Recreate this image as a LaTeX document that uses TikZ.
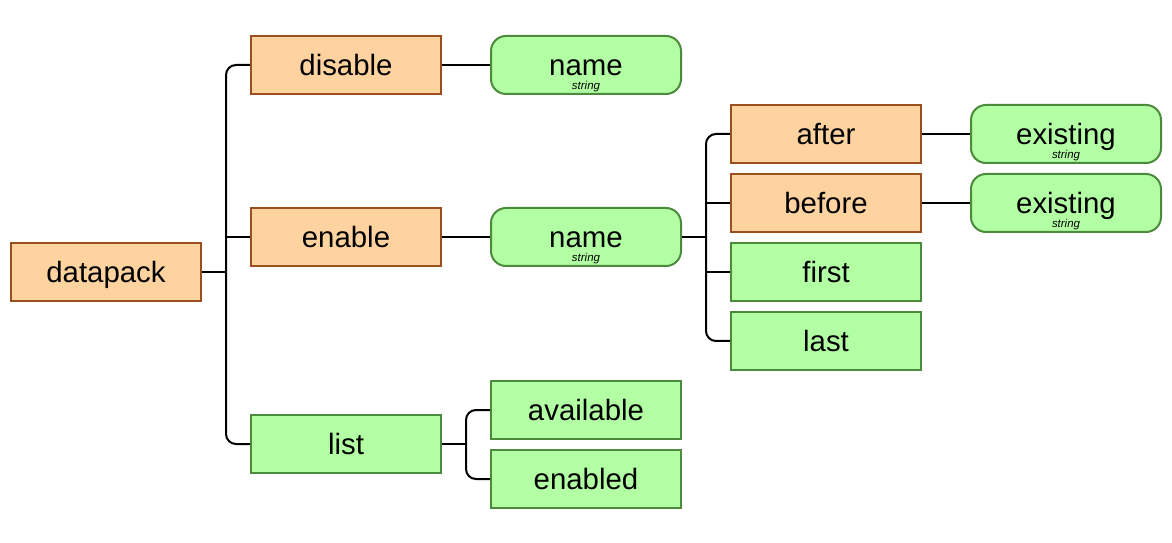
\documentclass[tikz,border=0pt]{standalone}
\usepackage{fontspec}
\setmainfont{Liberation Sans}
\definecolor{cmdfill}{HTML}{FFD3A0}
\definecolor{cmdline}{HTML}{9B4F1C}
\definecolor{leaffill}{HTML}{B2FFA4}
\definecolor{leafline}{HTML}{4B8B3B}
\begin{document}
\begin{tikzpicture}[x=1bp,y=-1bp,
  box/.style={draw, line width=2bp, minimum width=190bp, minimum height=58bp,
    inner sep=0pt, text height=21pt, text depth=0pt,
    font=\fontsize{29.5}{32}\selectfont},
  cmd/.style={box, fill=cmdfill, draw=cmdline},
  leaf/.style={box, fill=leaffill, draw=leafline},
  arg/.style={leaf, rounded corners=15bp},
  typ/.style={label={[font=\fontsize{11.5}{12}\selectfont\itshape, yshift=-22bp,
    inner sep=0pt]center:string}},
  wire/.style={line width=2bp, rounded corners=10bp}]
\useasboundingbox (0,0) rectangle (1172,543);

% command tree
\node[cmd] (datapack) at (106,272) {datapack};
\node[cmd] (disable) at (346,65) {disable};
\node[cmd] (enable) at (346,237) {enable};
\node[leaf] (list) at (346,444) {list};
\node[arg,typ] (dname) at (586,65) {name};
\node[arg,typ] (ename) at (586,237) {name};
\node[leaf] (available) at (586,410) {available};
\node[leaf] (enabled) at (586,479) {enabled};
\node[cmd] (after) at (826,134) {after};
\node[cmd] (before) at (826,203) {before};
\node[leaf] (first) at (826,272) {first};
\node[leaf] (last) at (826,341) {last};
\node[arg,typ] (aex) at (1066,134) {existing};
\node[arg,typ] (bex) at (1066,203) {existing};

% branch junctions
\coordinate (j1) at (226,272);
\coordinate (j2) at (706,237);
\coordinate (j3) at (466,444);

% datapack branches
\draw[wire] (datapack.east) -- (j1);
\draw[wire] (disable.west) -| (j1) |- (list.west);
\draw[wire] (j1 |- enable.west) -- (enable.west);

% single links
\draw[wire] (disable.east) -- (dname.west);
\draw[wire] (enable.east) -- (ename.west);
\draw[wire] (after.east) -- (aex.west);
\draw[wire] (before.east) -- (bex.west);

% enable name branches
\draw[wire] (ename.east) -- (j2);
\draw[wire] (after.west) -| (j2) |- (last.west);
\draw[wire] (j2 |- before.west) -- (before.west);
\draw[wire] (j2 |- first.west) -- (first.west);

% list branches
\draw[wire] (list.east) -- (j3);
\draw[wire] (available.west) -| (j3) |- (enabled.west);
\end{tikzpicture}
\end{document}
